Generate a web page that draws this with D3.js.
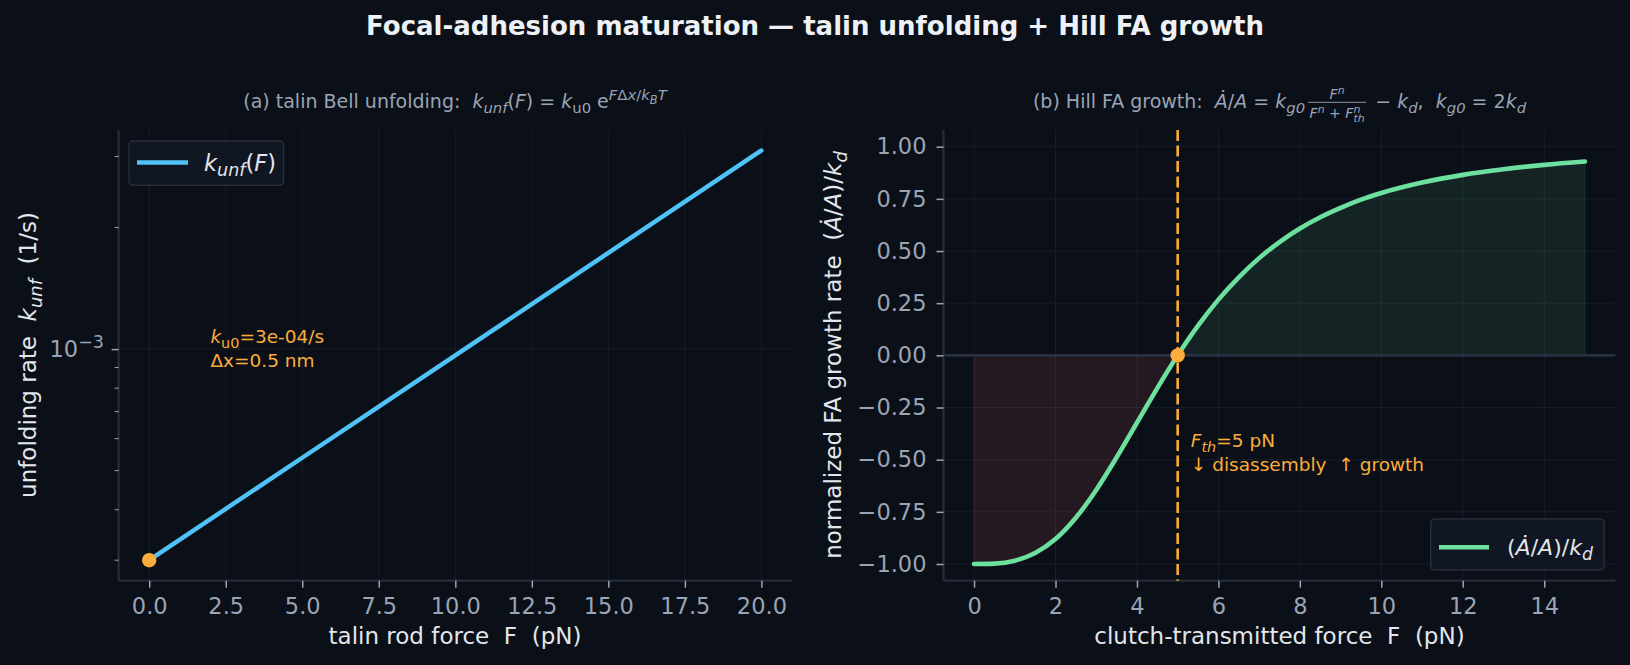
<!DOCTYPE html>
<html>
<head>
<meta charset="utf-8">
<script src="https://cdn.jsdelivr.net/npm/d3@7"></script>
<style>
  html, body { margin: 0; padding: 0; background: #0b0f17; }
  svg { display: block; font-family: "DejaVu Sans", sans-serif; }
</style>
</head>
<body>
<svg width="1630" height="665"></svg>
<script>
// ---- data ----
var talinForce = [0, 2.5, 5, 7.5, 10, 12.5, 15, 17.5, 20];
var talinRate = [3.0e-4, 4.02e-4, 5.38e-4, 7.2e-4, 9.65e-4, 1.292e-3, 1.731e-3, 2.318e-3, 3.104e-3];

var hillForce = [0, 0.5, 1, 1.5, 2, 2.5, 3, 3.5, 4, 4.5, 5, 5.5, 6, 6.5, 7, 7.5, 8, 8.5, 9, 9.5, 10, 11, 12, 13, 14, 15];
var hillRate = [-1.0, -0.998, -0.984, -0.947, -0.880, -0.778, -0.645, -0.489, -0.323, -0.157, 0.0,
                0.142, 0.267, 0.374, 0.466, 0.543, 0.608, 0.662, 0.707, 0.746, 0.778, 0.828, 0.865, 0.892, 0.913, 0.929];

var leftXTicks = [0, 2.5, 5, 7.5, 10, 12.5, 15, 17.5, 20];
var leftMinorTicks = [3e-4, 4e-4, 5e-4, 6e-4, 7e-4, 8e-4, 9e-4, 2e-3, 3e-3];
var rightXTicks = [0, 2, 4, 6, 8, 10, 12, 14];
var rightYTicks = [-1, -0.75, -0.5, -0.25, 0, 0.25, 0.5, 0.75, 1];
var forceThreshold = 5;

// ---- colours ----
var bg = '#0b0f17', spineCol = '#262d3b', gridCol = '#171d29', tickCol = '#9aa4b5';
var labelCol = '#e2e6ec', blue = '#4fc3f7', green = '#6ddf9e', orange = '#fbad3c';
var SCRIPT = 0.78;

var svg = d3.select('svg');
svg.append('rect').attr('width', 1630).attr('height', 665).attr('fill', bg);

// lay out a row of text pieces (math-ish) and return its width
function layout(g, parts, x0, y0, size, fill) {
  var cx = x0;
  parts.forEach(function (p) {
    if (p.frac) {
      cx += 3;
      var fs = size * 0.74;
      var ng = g.append('g'), dg = g.append('g');
      var nw = layout(ng, p.frac[0], 0, y0 - size * 0.45, fs, fill);
      var dw = layout(dg, p.frac[1], 0, y0 + size * 0.55, fs, fill);
      var w = Math.max(nw, dw) + 3;
      ng.attr('transform', 'translate(' + (cx + 1.5 + (w - 3 - nw) / 2) + ',0)');
      dg.attr('transform', 'translate(' + (cx + 1.5 + (w - 3 - dw) / 2) + ',0)');
      g.append('line').attr('x1', cx).attr('x2', cx + w)
        .attr('y1', y0 - size * 0.3).attr('y2', y0 - size * 0.3)
        .attr('stroke', fill).attr('stroke-width', 0.9);
      cx += w + 3;
      return;
    }
    if (p.subsup) {
      var a = textPiece(g, {t: p.subsup[0], it: true}, cx, y0 + size * 0.24, size * SCRIPT, fill);
      var b = textPiece(g, {t: p.subsup[1], it: true}, cx, y0 - size * 0.4, size * SCRIPT, fill);
      cx += Math.max(a, b);
      return;
    }
    var fs = size, dy = 0;
    if (p.sub) { fs = size * SCRIPT; dy = size * 0.24; }
    if (p.sup) { fs = size * SCRIPT; dy = -size * 0.4; }
    if (p.supsub) { fs = size * 0.6; dy = -size * 0.22; }
    cx += textPiece(g, p, cx, y0 + dy, fs, fill);
  });
  return cx - x0;
}

function textPiece(g, p, x, y, fs, fill) {
  var t = g.append('text').attr('x', x).attr('y', y)
    .attr('font-size', fs).attr('fill', fill)
    .attr('font-style', p.it ? 'italic' : 'normal')
    .text(p.t.replace(/ /g, '\u00a0'));
  return t.node().getComputedTextLength();
}

function mathText(parts, o) {
  var g = svg.append('g').attr('transform', 'translate(' + o.x + ',' + o.y + ')' + (o.rotate ? ' rotate(' + o.rotate + ')' : ''));
  var inner = g.append('g');
  if (o.weight) inner.attr('font-weight', o.weight);
  var w = layout(inner, parts, 0, 0, o.size, o.fill);
  if (o.anchor === 'middle') inner.attr('transform', 'translate(' + (-w / 2) + ',0)');
  if (o.anchor === 'end') inner.attr('transform', 'translate(' + (-w) + ',0)');
  return g;
}

// ---- scales ----
var axTop = 130, axBottom = 580.7;
var xL = d3.scaleLinear().domain([-1, 21]).range([118.6, 792]);
var yL = d3.scaleLog().domain([2.669e-4, 3.488e-3]).range([axBottom, axTop]);
var xR = d3.scaleLinear().domain([-0.75, 15.75]).range([943.5, 1615.5]);
var yR = d3.scaleLinear().domain([-1.08, 1.08]).range([axBottom, axTop]);
var tickFont = 22.5, labelFont = 23, subFont = 19;

// ---- panel (a) ----
var gA = svg.append('g');
gA.selectAll('.vgrid').data(leftXTicks).enter().append('line')
  .attr('x1', d => xL(d)).attr('x2', d => xL(d)).attr('y1', axTop).attr('y2', axBottom)
  .attr('stroke', gridCol).attr('stroke-width', 1);
gA.append('line').attr('x1', xL.range()[0]).attr('x2', xL.range()[1])
  .attr('y1', yL(1e-3)).attr('y2', yL(1e-3)).attr('stroke', gridCol).attr('stroke-width', 1);

var axA = gA.append('g').attr('transform', 'translate(0,' + axBottom + ')')
  .call(d3.axisBottom(xL).tickValues(leftXTicks).tickFormat(d3.format('.1f')).tickSize(7).tickPadding(10));
var ayA = gA.append('g').attr('transform', 'translate(' + xL.range()[0] + ',0)')
  .call(d3.axisLeft(yL).tickValues([1e-3]).tickFormat('').tickSize(7));
ayA.selectAll('.minor').data(leftMinorTicks).enter().append('line').attr('class', 'minor')
  .attr('x1', -4).attr('x2', 0).attr('y1', d => yL(d)).attr('y2', d => yL(d))
  .attr('stroke', tickCol).attr('stroke-width', 1);
mathText([{t: '10'}, {t: '\u22123', sup: true}], {x: 104, y: yL(1e-3) + 8, size: tickFont, fill: tickCol, anchor: 'end'});

var lineA = d3.line().x((d, i) => xL(talinForce[i])).y(d => yL(d));
gA.append('path').datum(talinRate).attr('d', lineA)
  .attr('fill', 'none').attr('stroke', blue).attr('stroke-width', 4.4).attr('stroke-linecap', 'round');
gA.append('circle').attr('cx', xL(talinForce[0])).attr('cy', yL(talinRate[0])).attr('r', 7.2).attr('fill', orange);

// legend (a)
gA.append('rect').attr('x', 129).attr('y', 141).attr('width', 154.6).attr('height', 44.3).attr('rx', 4)
  .attr('fill', '#111722').attr('stroke', spineCol).attr('stroke-width', 1.5);
gA.append('line').attr('x1', 137).attr('x2', 188).attr('y1', 162.5).attr('y2', 162.5)
  .attr('stroke', blue).attr('stroke-width', 4.5);
mathText([{t: 'k', it: true}, {t: 'unf', it: true, sub: true}, {t: '('}, {t: 'F', it: true}, {t: ')'}],
  {x: 204, y: 170.5, size: 22.5, fill: labelCol});

// annotation (a)
mathText([{t: 'k', it: true}, {t: 'u0', sub: true}, {t: '=3e-04/s'}], {x: 210.4, y: 343.3, size: 18.5, fill: orange});
mathText([{t: '\u0394x=0.5 nm'}], {x: 210.4, y: 367.3, size: 18.5, fill: orange});

// ---- panel (b) ----
var gB = svg.append('g');
gB.selectAll('.vgrid').data(rightXTicks).enter().append('line')
  .attr('x1', d => xR(d)).attr('x2', d => xR(d)).attr('y1', axTop).attr('y2', axBottom)
  .attr('stroke', gridCol).attr('stroke-width', 1);
gB.selectAll('.hgrid').data(rightYTicks).enter().append('line')
  .attr('x1', xR.range()[0]).attr('x2', xR.range()[1]).attr('y1', d => yR(d)).attr('y2', d => yR(d))
  .attr('stroke', gridCol).attr('stroke-width', 1);

var pts = hillForce.map((f, i) => [f, hillRate[i]]);
var areaB = d3.area().curve(d3.curveMonotoneX).x(d => xR(d[0])).y0(yR(0)).y1(d => yR(d[1]));
gB.append('path').datum(pts.filter(d => d[0] <= forceThreshold)).attr('d', areaB)
  .attr('fill', '#f87171').attr('fill-opacity', 0.11).attr('stroke', '#f87171').attr('stroke-opacity', 0.12);
gB.append('path').datum(pts.filter(d => d[0] >= forceThreshold)).attr('d', areaB)
  .attr('fill', green).attr('fill-opacity', 0.1).attr('stroke', green).attr('stroke-opacity', 0.12);

gB.append('line').attr('x1', xR.range()[0]).attr('x2', xR.range()[1]).attr('y1', yR(0)).attr('y2', yR(0))
  .attr('stroke', '#283040').attr('stroke-width', 2.6);

var axB = gB.append('g').attr('transform', 'translate(0,' + axBottom + ')')
  .call(d3.axisBottom(xR).tickValues(rightXTicks).tickFormat(d3.format('d')).tickSize(7).tickPadding(10));
var ayB = gB.append('g').attr('transform', 'translate(' + xR.range()[0] + ',0)')
  .call(d3.axisLeft(yR).tickValues(rightYTicks).tickFormat(d3.format('.2f')).tickSize(7).tickPadding(10));

var lineB = d3.line().curve(d3.curveMonotoneX).x(d => xR(d[0])).y(d => yR(d[1]));
gB.append('path').datum(pts).attr('d', lineB)
  .attr('fill', 'none').attr('stroke', green).attr('stroke-width', 4.6).attr('stroke-linecap', 'round');

gB.append('line').attr('x1', xR(forceThreshold)).attr('x2', xR(forceThreshold)).attr('y1', axTop).attr('y2', axBottom)
  .attr('stroke', orange).attr('stroke-width', 2.6).attr('stroke-dasharray', '11,4.5');
gB.append('circle').attr('cx', xR(forceThreshold)).attr('cy', yR(0)).attr('r', 7.2).attr('fill', orange);

mathText([{t: 'F', it: true}, {t: 'th', it: true, sub: true}, {t: '=5 pN'}], {x: 1190.8, y: 447.3, size: 18.5, fill: orange});
mathText([{t: '\u2193 disassembly  \u2191 growth'}], {x: 1190.8, y: 470.5, size: 18.5, fill: orange});

// legend (b)
gB.append('rect').attr('x', 1430.7).attr('y', 519).attr('width', 173.6).attr('height', 51).attr('rx', 4)
  .attr('fill', '#111722').attr('stroke', spineCol).attr('stroke-width', 1.5);
gB.append('line').attr('x1', 1439).attr('x2', 1489).attr('y1', 547.3).attr('y2', 547.3)
  .attr('stroke', green).attr('stroke-width', 4.5);
mathText([{t: '('}, {t: '\u0226', it: true}, {t: '/'}, {t: 'A', it: true}, {t: ')/'}, {t: 'k', it: true}, {t: 'd', it: true, sub: true}],
  {x: 1507, y: 555, size: 22, fill: labelCol});

// ---- axis styling ----
[axA, ayA, axB, ayB].forEach(function (a) {
  a.select('.domain').attr('stroke', spineCol).attr('stroke-width', 2.2);
  a.selectAll('.tick line').attr('stroke', tickCol).attr('stroke-width', 1.5);
  a.selectAll('.tick text').attr('fill', tickCol).attr('font-size', tickFont).attr('font-family', '"DejaVu Sans", sans-serif');
});
axA.select('.domain').attr('d', 'M' + xL.range()[0] + ',0H' + xL.range()[1]);
axB.select('.domain').attr('d', 'M' + xR.range()[0] + ',0H' + xR.range()[1]);
ayA.select('.domain').attr('d', 'M0,' + axTop + 'V' + axBottom);
ayB.select('.domain').attr('d', 'M0,' + axTop + 'V' + axBottom);

// ---- titles and labels ----
mathText([{t: 'Focal-adhesion maturation \u2014 talin unfolding + Hill FA growth'}],
  {x: 815, y: 35, size: 26, fill: '#eef1f5', anchor: 'middle', weight: 'bold'});

mathText([{t: '(a) talin Bell unfolding:  '}, {t: 'k', it: true}, {t: 'unf', it: true, sub: true}, {t: '('}, {t: 'F', it: true},
  {t: ') = '}, {t: 'k', it: true}, {t: 'u0', sub: true}, {t: ' e'},
  {t: 'F', it: true, sup: true}, {t: '\u0394', sup: true}, {t: 'x', it: true, sup: true}, {t: '/', sup: true},
  {t: 'k', it: true, sup: true}, {t: 'B', it: true, supsub: true}, {t: 'T', it: true, sup: true}],
  {x: 455, y: 108, size: subFont, fill: tickCol, anchor: 'middle'});

mathText([{t: '(b) Hill FA growth:  '}, {t: '\u0226', it: true}, {t: '/'}, {t: 'A', it: true}, {t: ' = '},
  {t: 'k', it: true}, {t: 'g0', it: true, sub: true},
  {frac: [[{t: 'F', it: true}, {t: 'n', it: true, sup: true}],
          [{t: 'F', it: true}, {t: 'n', it: true, sup: true}, {t: ' + '}, {t: 'F', it: true}, {subsup: ['th', 'n']}]]},
  {t: ' \u2212 '}, {t: 'k', it: true}, {t: 'd', it: true, sub: true}, {t: ',  '},
  {t: 'k', it: true}, {t: 'g0', it: true, sub: true}, {t: ' = 2'}, {t: 'k', it: true}, {t: 'd', it: true, sub: true}],
  {x: 1279.5, y: 108, size: subFont, fill: tickCol, anchor: 'middle'});

mathText([{t: 'talin rod force  F  (pN)'}], {x: 455, y: 644, size: labelFont, fill: labelCol, anchor: 'middle'});
mathText([{t: 'clutch-transmitted force  F  (pN)'}], {x: 1279.5, y: 644, size: labelFont, fill: labelCol, anchor: 'middle'});

mathText([{t: 'unfolding rate  '}, {t: 'k', it: true}, {t: 'unf', it: true, sub: true}, {t: '  (1/s)'}],
  {x: 36, y: 355, size: labelFont, fill: labelCol, anchor: 'middle', rotate: -90});
mathText([{t: 'normalized FA growth rate  ('}, {t: '\u0226', it: true}, {t: '/'}, {t: 'A', it: true}, {t: ')/'},
  {t: 'k', it: true}, {t: 'd', it: true, sub: true}],
  {x: 841, y: 355, size: labelFont, fill: labelCol, anchor: 'middle', rotate: -90});
</script>
</body>
</html>
